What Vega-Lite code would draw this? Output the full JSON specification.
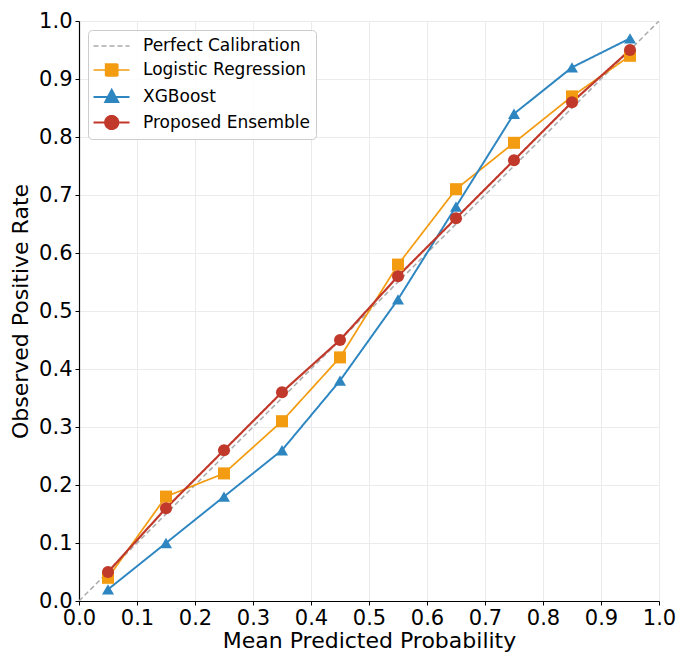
{
  "$schema": "https://vega.github.io/schema/vega-lite/v6.json",
  "width": 580,
  "height": 580,
  "autosize": {"type": "none"},
  "padding": {"left": 79, "top": 21, "right": 19, "bottom": 52},
  "background": "white",
  "config": {
    "view": {"stroke": null},
    "font": "DejaVu Sans",
    "axis": {
      "labelFont": "DejaVu Sans",
      "titleFont": "DejaVu Sans",
      "labelFontSize": 21,
      "titleFontSize": 22,
      "labelColor": "#000000",
      "titleColor": "#000000",
      "titleFontWeight": "normal",
      "domainColor": "#000000",
      "domainWidth": 1.2,
      "tickColor": "#000000",
      "tickSize": 4,
      "gridColor": "#ebebeb",
      "gridWidth": 1,
      "labelFlush": false,
      "labelOverlap": false
    }
  },
  "data": {
    "values": [
      {"p": 0.0, "rate": 0.0, "series": "Perfect Calibration"},
      {"p": 1.0, "rate": 1.0, "series": "Perfect Calibration"},
      {"p": 0.05, "rate": 0.04, "series": "Logistic Regression"},
      {"p": 0.15, "rate": 0.18, "series": "Logistic Regression"},
      {"p": 0.25, "rate": 0.22, "series": "Logistic Regression"},
      {"p": 0.35, "rate": 0.31, "series": "Logistic Regression"},
      {"p": 0.45, "rate": 0.42, "series": "Logistic Regression"},
      {"p": 0.55, "rate": 0.58, "series": "Logistic Regression"},
      {"p": 0.65, "rate": 0.71, "series": "Logistic Regression"},
      {"p": 0.75, "rate": 0.79, "series": "Logistic Regression"},
      {"p": 0.85, "rate": 0.87, "series": "Logistic Regression"},
      {"p": 0.95, "rate": 0.94, "series": "Logistic Regression"},
      {"p": 0.05, "rate": 0.02, "series": "XGBoost"},
      {"p": 0.15, "rate": 0.10, "series": "XGBoost"},
      {"p": 0.25, "rate": 0.18, "series": "XGBoost"},
      {"p": 0.35, "rate": 0.26, "series": "XGBoost"},
      {"p": 0.45, "rate": 0.38, "series": "XGBoost"},
      {"p": 0.55, "rate": 0.52, "series": "XGBoost"},
      {"p": 0.65, "rate": 0.68, "series": "XGBoost"},
      {"p": 0.75, "rate": 0.84, "series": "XGBoost"},
      {"p": 0.85, "rate": 0.92, "series": "XGBoost"},
      {"p": 0.95, "rate": 0.97, "series": "XGBoost"},
      {"p": 0.05, "rate": 0.05, "series": "Proposed Ensemble"},
      {"p": 0.15, "rate": 0.16, "series": "Proposed Ensemble"},
      {"p": 0.25, "rate": 0.26, "series": "Proposed Ensemble"},
      {"p": 0.35, "rate": 0.36, "series": "Proposed Ensemble"},
      {"p": 0.45, "rate": 0.45, "series": "Proposed Ensemble"},
      {"p": 0.55, "rate": 0.56, "series": "Proposed Ensemble"},
      {"p": 0.65, "rate": 0.66, "series": "Proposed Ensemble"},
      {"p": 0.75, "rate": 0.76, "series": "Proposed Ensemble"},
      {"p": 0.85, "rate": 0.86, "series": "Proposed Ensemble"},
      {"p": 0.95, "rate": 0.95, "series": "Proposed Ensemble"}
    ]
  },
  "encoding": {
    "x": {
      "field": "p", "type": "quantitative",
      "scale": {"domain": [0, 1], "nice": false, "zero": false},
      "axis": {"title": "Mean Predicted Probability", "values": [0,0.1,0.2,0.3,0.4,0.5,0.6,0.7,0.8,0.9,1.0], "format": ".1f", "titlePadding": 2, "labelPadding": 2}
    },
    "y": {
      "field": "rate", "type": "quantitative",
      "scale": {"domain": [0, 1], "nice": false, "zero": false},
      "axis": {"title": "Observed Positive Rate", "values": [0,0.1,0.2,0.3,0.4,0.5,0.6,0.7,0.8,0.9,1.0], "format": ".1f", "titlePadding": 6, "labelPadding": 3}
    },
    "color": {
      "field": "series", "type": "nominal",
      "scale": {
        "domain": ["Perfect Calibration", "Logistic Regression", "XGBoost", "Proposed Ensemble"],
        "range": ["#aaaaaa", "#f39c12", "#2e86c1", "#c0392b"]
      },
      "legend": {
        "title": null,
        "orient": "top-left",
        "offset": 9,
        "labelFontSize": 17,
        "labelFont": "DejaVu Sans",
        "labelColor": "#000000",
        "labelLimit": 0,
        "symbolSize": 400,
        "symbolStrokeWidth": 1.5,
        "labelOffset": 27,
        "rowPadding": 5,
        "padding": 5,
        "strokeColor": "#cccccc",
        "fillColor": "rgba(255,255,255,0.85)",
        "cornerRadius": 4,
        "encode": {
          "symbols": {
            "update": {
              "shape": {"signal": "datum.value === 'Perfect Calibration' ? 'M-1.1,0H2.5' : datum.value === 'Logistic Regression' ? 'M-1.1,0H2.5M0.12,-0.6H1.32V0.6H0.12Z' : datum.value === 'XGBoost' ? 'M-1.1,0H2.5M0.72,-0.72L1.37,0.5L0.07,0.5Z' : 'M-1.1,0H2.5M0.07,0A0.65,0.65 0 1,0 1.37,0A0.65,0.65 0 1,0 0.07,0Z'"},
              "stroke": {"scale": "color", "field": "value"},
              "fill": {"signal": "datum.value === 'Perfect Calibration' ? 'transparent' : scale('color', datum.value)"},
              "strokeDash": {"signal": "datum.value === 'Perfect Calibration' ? [4, 3] : [1, 0]"},
              "strokeWidth": {"signal": "datum.value === 'Proposed Ensemble' ? 3 : datum.value === 'Perfect Calibration' ? 1.5 : 2.2"},
              "opacity": {"value": 1}
            }
          }
        }
      }
    }
  },
  "layer": [
    {
      "mark": {"type": "line", "clip": true},
      "encoding": {
        "strokeDash": {
          "field": "series", "type": "nominal",
          "scale": {"domain": ["Perfect Calibration", "Logistic Regression", "XGBoost", "Proposed Ensemble"], "range": [[5, 3], [1, 0], [1, 0], [1, 0]]},
          "legend": null
        },
        "strokeWidth": {
          "field": "series", "type": "nominal",
          "scale": {"domain": ["Perfect Calibration", "Logistic Regression", "XGBoost", "Proposed Ensemble"], "range": [1.5, 2.2, 2.2, 3]},
          "legend": null
        }
      }
    },
    {
      "transform": [{"filter": "datum.series !== 'Perfect Calibration'"}],
      "mark": {"type": "point", "filled": true, "opacity": 1, "size": 145},
      "encoding": {
        "shape": {
          "field": "series", "type": "nominal",
          "scale": {"domain": ["Logistic Regression", "XGBoost", "Proposed Ensemble"], "range": ["square", "triangle-up", "circle"]},
          "legend": null
        }
      }
    }
  ]
}
